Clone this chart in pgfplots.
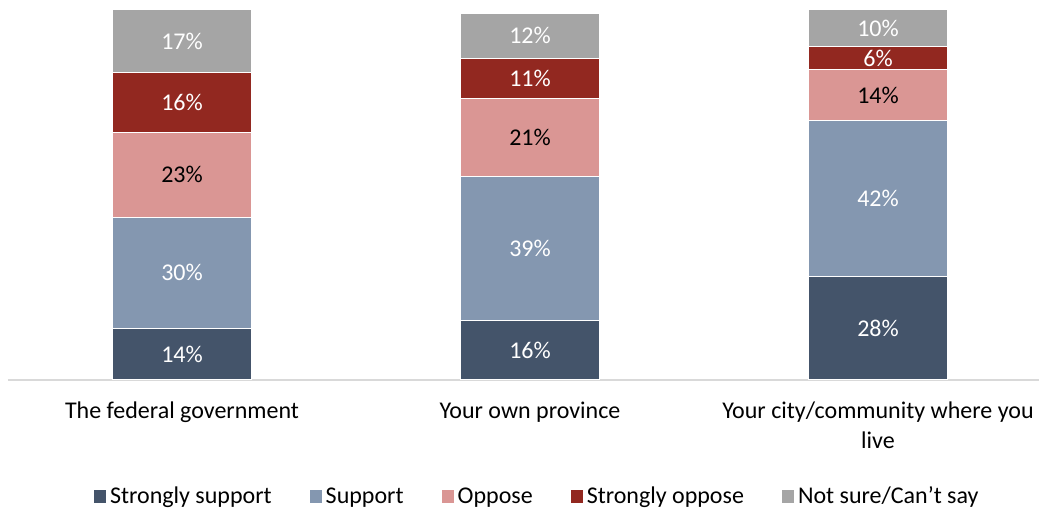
\documentclass[border=0pt]{standalone}
\usepackage{pgfplots}
\pgfplotsset{compat=1.18}
\usepackage{pgfplotstable}
\usepackage{fontspec}
\setmainfont{Carlito}
\definecolor{cSS}{HTML}{44546A}
\definecolor{cS}{HTML}{8497B0}
\definecolor{cO}{HTML}{DA9694}
\definecolor{cSO}{HTML}{922820}
\definecolor{cNS}{HTML}{A5A5A5}
\definecolor{axisgray}{HTML}{D9D9D9}
\pgfplotstableread{
x ss s o so ns
0 14 30 23 16 17
1 16 39 21 11 12
2 28 42 14 6 10
}\data
\begin{document}
\begin{tikzpicture}
\clip (-4pt,-64pt) rectangle (515.5pt,190pt);
\begin{axis}[
  at={(0pt,0pt)}, anchor=south west,
  scale only axis, width=522pt, height=185pt,
  xmin=-0.5, xmax=2.5, ymin=0, ymax=100,
  ybar stacked, bar width=69.5pt,
  axis x line=bottom, axis y line=none,
  x axis line style={-, draw=axisgray, line width=0.6pt},
  xtick={0,1,2}, xtick style={draw=none},
  xticklabels={The federal government, Your own province, {Your city/community where you\\live}},
  xticklabel style={align=center, font=\fontsize{12}{14.8}\selectfont, text=black, yshift=-5.5pt},
  ytick=\empty,
  /pgf/number format/assume math mode=true,
  visualization depends on=rawy \as \segval,
  nodes near coords={\pgfmathprintnumber{\segval}\%},
  every node near coord/.append style={anchor=center, font=\fontsize{12}{14}\selectfont},
  legend style={at={(0.507,-0.316)}, anchor=center, draw=none, legend columns=-1,
    font=\fontsize{12}{14}\selectfont,
    /tikz/every even column/.append style={column sep=17pt},
    nodes={inner sep=1.5pt}},
  legend image code/.code={\fill[#1] (0pt,-3.5pt) rectangle (6.5pt,3.5pt);},
]
\addplot[fill=cSS, draw=white, line width=0.5pt, every node near coord/.append style={text=white}] table[x=x, y=ss] {\data};
\addplot[fill=cS, draw=white, line width=0.5pt, every node near coord/.append style={text=white}] table[x=x, y=s] {\data};
\addplot[fill=cO, draw=white, line width=0.5pt, every node near coord/.append style={text=black}] table[x=x, y=o] {\data};
\addplot[fill=cSO, draw=white, line width=0.5pt, every node near coord/.append style={text=white}] table[x=x, y=so] {\data};
\addplot[fill=cNS, draw=white, line width=0.5pt, every node near coord/.append style={text=white}] table[x=x, y=ns] {\data};
\legend{Strongly support, Support, Oppose, Strongly oppose, Not sure/Can’t say}
\end{axis}
\end{tikzpicture}
\end{document}
